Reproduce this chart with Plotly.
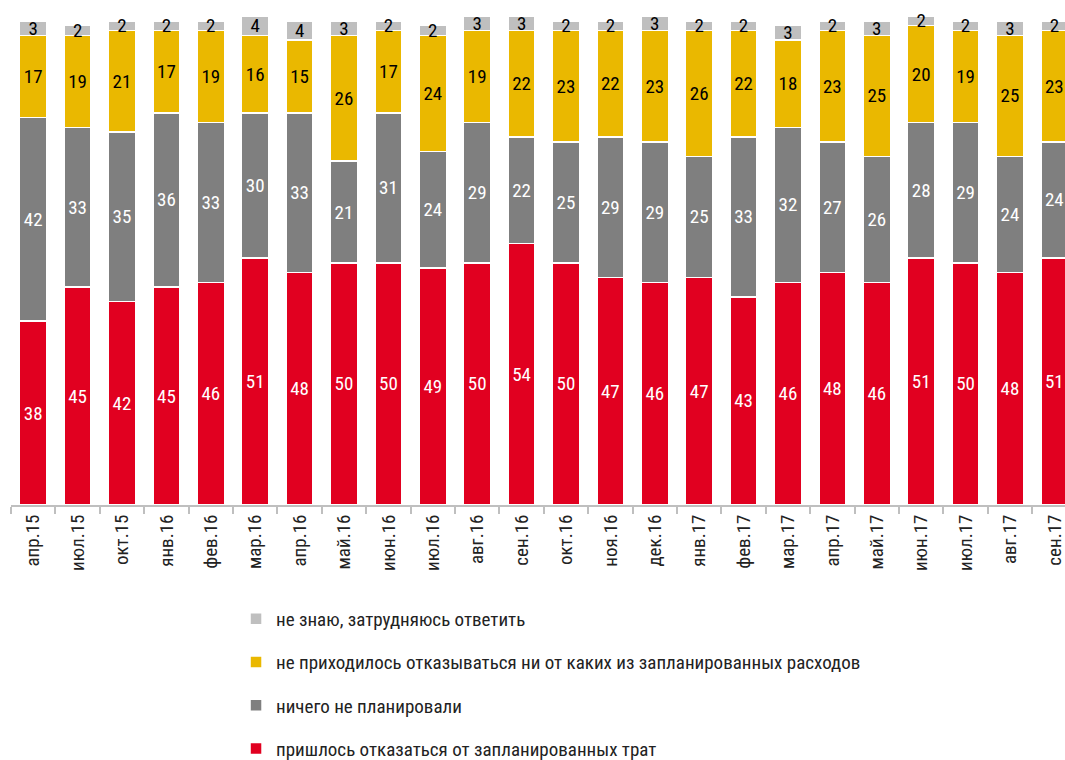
import plotly.graph_objects as go

categories = ["апр.15", "июл.15", "окт.15", "янв.16", "фев.16", "мар.16", "апр.16", "май.16",
              "июн.16", "июл.16", "авг.16", "сен.16", "окт.16", "ноя.16", "дек.16", "янв.17",
              "фев.17", "мар.17", "апр.17", "май.17", "июн.17", "июл.17", "авг.17", "сен.17"]

had_to_refuse = [38, 45, 42, 45, 46, 51, 48, 50, 50, 49, 50, 54, 50, 47, 46, 47, 43, 46, 48, 46, 51, 50, 48, 51]
planned_nothing = [42, 33, 35, 36, 33, 30, 33, 21, 31, 24, 29, 22, 25, 29, 29, 25, 33, 32, 27, 26, 28, 29, 24, 24]
no_refusal = [17, 19, 21, 17, 19, 16, 15, 26, 17, 24, 19, 22, 23, 22, 23, 26, 22, 18, 23, 25, 20, 19, 25, 23]
dont_know = [3, 2, 2, 2, 2, 4, 4, 3, 2, 2, 3, 3, 2, 2, 3, 2, 2, 3, 2, 3, 2, 2, 3, 2]

series_names = [
    "пришлось отказаться от запланированных трат",
    "ничего не планировали",
    "не приходилось отказываться ни от каких из запланированных расходов",
    "не знаю, затрудняюсь ответить",
]
series_values = [had_to_refuse, planned_nothing, no_refusal, dont_know]
series_colors = ["#E10020", "#7F7F7F", "#EAB800", "#BFBFBF"]
label_colors = ["white", "white", "black", "black"]

FONT = "Liberation Sans Narrow, Roboto Condensed, Arial Narrow, Liberation Sans, sans-serif"

fig = go.Figure()
for i, (name, vals, col, lcol) in enumerate(zip(series_names, series_values, series_colors, label_colors)):
    fig.add_trace(go.Bar(
        x=categories, y=vals, name=name,
        marker=dict(color=col, line=dict(color="white", width=1.5)),
        text=[str(v) for v in vals],
        textposition="inside",
        insidetextanchor="middle",
        constraintext="none",
        textangle=0,
        textfont=dict(family=FONT, size=19, color=lcol),
        cliponaxis=False,
        legendgroup=f"g{i}",
        legendrank=len(series_names) - i,
        hoverinfo="skip",
    ))

fig.update_layout(
    width=1065, height=760,
    barmode="stack",
    bargap=0.39,
    plot_bgcolor="white",
    paper_bgcolor="white",
    margin=dict(l=11, r=0, t=15, b=255, autoexpand=False),
    font=dict(family=FONT, size=19, color="#222222"),
    xaxis=dict(
        range=[-0.5, 23.24],
        tickangle=-90,
        tickson="boundaries",
        ticks="outside",
        ticklen=7,
        tickwidth=2,
        tickcolor="#BFBFBF",
        showline=True,
        linecolor="#BFBFBF",
        linewidth=2,
        showgrid=False,
        tickfont=dict(family=FONT, size=19, color="#222222"),
    ),
    yaxis=dict(range=[0, 101.2], visible=False, showgrid=False),
    legend=dict(
        orientation="v",
        traceorder="grouped",
        tracegroupgap=15.5,
        x=0.2135, xanchor="left",
        xref="paper",
        y=1 - 600 / 760, yanchor="top",
        yref="container",
        font=dict(family=FONT, size=19, color="#222222"),
        itemwidth=30,
    ),
    showlegend=True,
)

fig.write_html("out.html", config={"displayModeBar": False},
               post_script="document.body.style.margin='0px';")
